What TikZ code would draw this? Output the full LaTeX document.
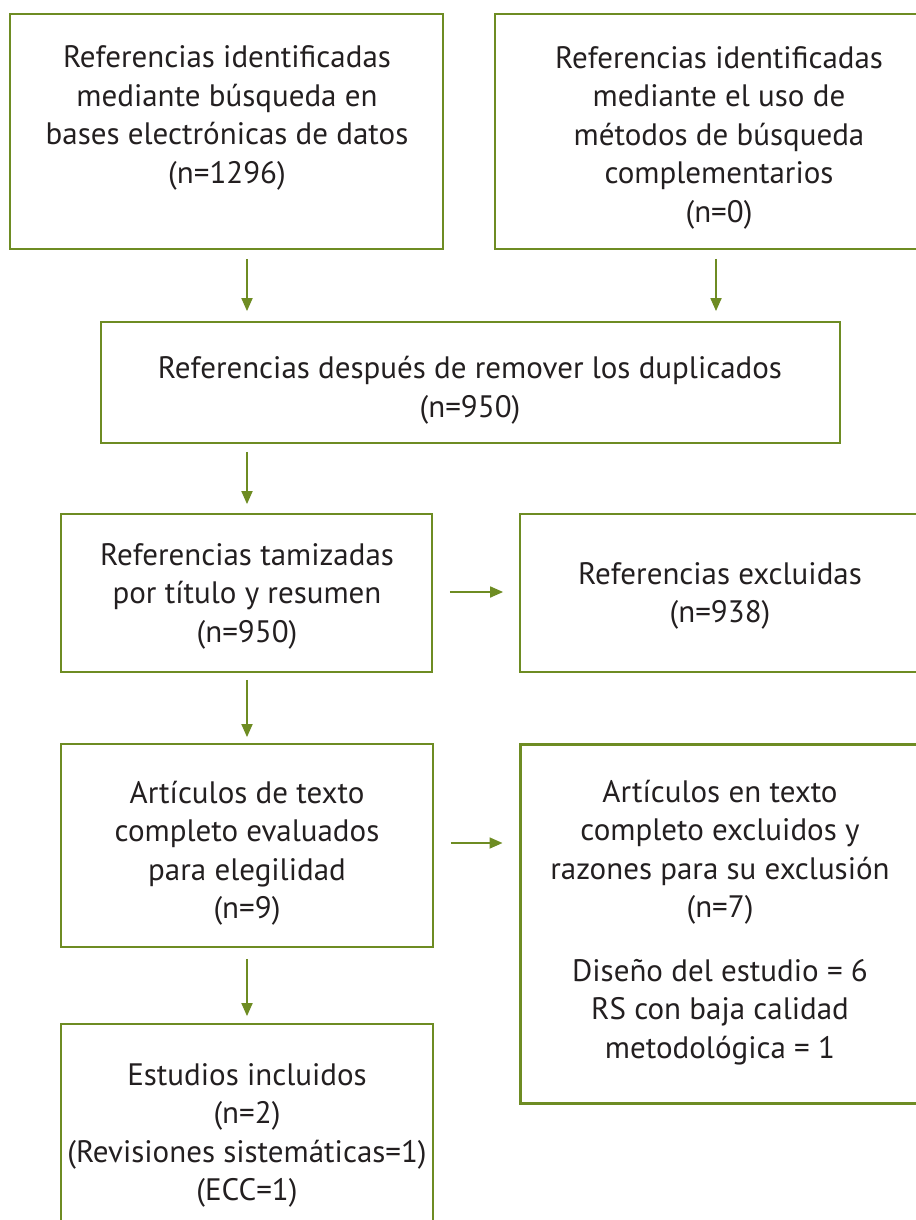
\documentclass[tikz,border=0pt]{standalone}
\usepackage{fontspec}
\setmainfont{PT Sans}
\usetikzlibrary{arrows.meta}
\definecolor{olivegreen}{RGB}{110,140,35}
\definecolor{ink}{RGB}{35,31,32}
\begin{document}
\begin{tikzpicture}[x=1pt,y=-1pt,
  box/.style={draw=olivegreen, line width=1.8pt, inner sep=0pt},
  thickbox/.style={box, line width=3pt},
  txt/.style={align=center, text=ink, font=\fontsize{31}{38.5}\selectfont, inner sep=0pt},
  arr/.style={draw=olivegreen, line width=1.8pt, -{Triangle[length=13pt,width=11pt]}}]
\useasboundingbox (0,0) rectangle (915,1220);
% boxes
\node[box, minimum width=433pt, minimum height=235pt] (A) at (226.5,131.5) {};
\node[box, minimum width=448pt, minimum height=235pt] (B) at (719,131.5) {};
\node[box, minimum width=739pt, minimum height=121pt] (C) at (470.5,382.5) {};
\node[box, minimum width=371pt, minimum height=158pt] (D) at (246.5,593) {};
\node[box, minimum width=420pt, minimum height=158pt] (E) at (730,593) {};
\node[box, minimum width=372pt, minimum height=203pt] (F) at (247,845.5) {};
\node[thickbox, minimum width=420pt, minimum height=359pt] (G) at (730,923.5) {};
\node[box, minimum width=372pt, minimum height=236pt] (H) at (247,1142) {};
% texts
\node[txt] (tA) at (227,118) {Referencias identificadas\\mediante búsqueda en\\bases electrónicas de datos\\(n=1296)};
\node[txt] (tB) at (719,137.5) {Referencias identificadas\\mediante el uso de\\métodos de búsqueda\\complementarios\\(n=0)};
\node[txt] (tC) at (470,390) {Referencias después de remover los duplicados\\(n=950)};
\node[txt] (tD) at (247,596) {Referencias tamizadas\\por título y resumen\\(n=950)};
\node[txt] (tE) at (720,596) {Referencias excluidas\\(n=938)};
\node[txt] (tF) at (247,853) {Artículos de texto\\completo evaluados\\para elegilidad\\(n=9)};
\node[txt] (tG) at (720,922.5) {Artículos en texto\\completo excluidos y\\razones para su exclusión\\(n=7)\\[25pt]Diseño del estudio = 6\\RS con baja calidad\\metodológica = 1};
\node[txt] (tH) at (247,1135.5) {Estudios incluidos\\(n=2)\\(Revisiones sistemáticas=1)\\(ECC=1)};
% arrows
\coordinate (xl) at (247,0);
\coordinate (xr) at (716,0);
\coordinate (yde) at (0,592);
\coordinate (yfg) at (0,843);
\draw[arr, shorten <=9pt, shorten >=10pt] (A.south -| xl) -- (C.north -| xl);
\draw[arr, shorten <=9pt, shorten >=10pt] (B.south -| xr) -- (C.north -| xr);
\draw[arr, shorten <=8pt, shorten >=9pt] (C.south -| xl) -- (D.north -| xl);
\draw[arr, shorten <=17pt, shorten >=16pt] (D.east |- yde) -- (E.west |- yde);
\draw[arr, shorten <=7pt, shorten >=6pt] (D.south -| xl) -- (F.north -| xl);
\draw[arr, shorten <=17pt, shorten >=16pt] (F.east |- yfg) -- (G.west |- yfg);
\draw[arr, shorten <=11pt, shorten >=7pt] (F.south -| xl) -- (H.north -| xl);
\end{tikzpicture}
\end{document}
